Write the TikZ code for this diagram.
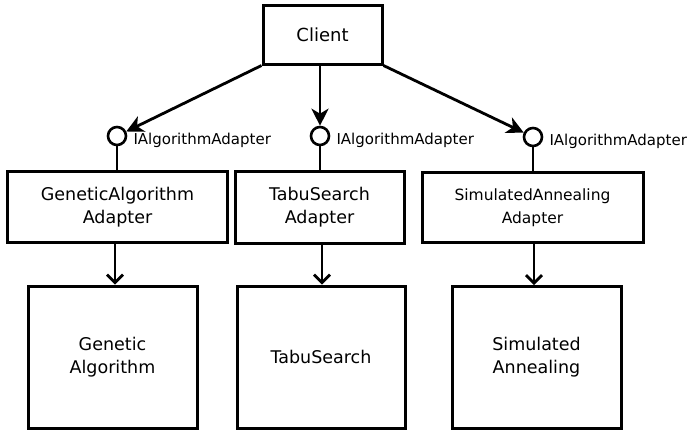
\documentclass[tikz,border=0pt]{standalone}
\usepackage{fontspec}
\setmainfont{DejaVu Sans}
\usetikzlibrary{arrows.meta}
\tikzset{
  box/.style={draw, line width=3pt, inner sep=0pt, align=center, fill=white},
  lolly/.style={draw, circle, line width=2.6pt, minimum size=18pt, inner sep=0pt},
  iface/.style={anchor=base west, inner sep=0pt, font=\fontsize{15pt}{17pt}\selectfont},
  uses/.style={line width=2.8pt, -{Stealth[length=17pt, width=17pt, inset=5pt]}},
  delegates/.style={line width=2.8pt, -{Straight Barb[length=8pt, width=16pt, line width=2.8pt]}},
  stem/.style={line width=2.6pt}
}
\begin{document}
\begin{tikzpicture}[x=1pt, y=-1pt, font=\fontsize{17.5pt}{23pt}\selectfont]
\useasboundingbox (0,0) rectangle (688,432);

% client
\node[box, minimum width=119pt, minimum height=59pt, font=\fontsize{18pt}{23pt}\selectfont] (client) at (322.5,34.5) {Client};

% adapters
\node[box, minimum width=220pt, minimum height=71pt] (ad1) at (117.5,207) {GeneticAlgorithm\\Adapter};
\node[box, minimum width=169pt, minimum height=72pt] (ad2) at (319.5,207) {TabuSearch\\Adapter};
\node[box, minimum width=221pt, minimum height=70pt, font=\fontsize{15.5pt}{23pt}\selectfont] (ad3) at (532.5,207.5) {SimulatedAnnealing\\Adapter};

% provided interfaces
\node[lolly] (i1) at (117,136) {};
\node[lolly] (i2) at (320,136) {};
\node[lolly] (i3) at (533,137) {};
\node[iface] (l1) at ([xshift=6pt, yshift=-8pt]i1.east) {IAlgorithmAdapter};
\node[iface] (l2) at ([xshift=6pt, yshift=-8pt]i2.east) {IAlgorithmAdapter};
\node[iface] (l3) at ([xshift=6pt, yshift=-8pt]i3.east) {IAlgorithmAdapter};
\draw[stem] (i1.south) -- (i1.south |- ad1.north);
\draw[stem] (i2.south) -- (i2.south |- ad2.north);
\draw[stem] (i3.south) -- (i3.south |- ad3.north);

% algorithms
\node[box, minimum width=169pt, minimum height=142pt] (alg1) at (112.5,357) {Genetic\\Algorithm};
\node[box, minimum width=168pt, minimum height=142pt] (alg2) at (321,357) {TabuSearch};
\node[box, minimum width=169pt, minimum height=142pt] (alg3) at (536.5,357.5) {Simulated\\Annealing};

% client uses the adapters
\draw[uses] (client.south west) -- (i1);
\draw[uses] (client.south -| i2) -- (i2.north);
\draw[uses] (client.south east) -- (i3);

% adapters delegate to the algorithms
\coordinate (d1) at (115,0);
\coordinate (d2) at (322,0);
\coordinate (d3) at (534,0);
\draw[delegates] (d1 |- ad1.south) -- (d1 |- alg1.north);
\draw[delegates] (d2 |- ad2.south) -- (d2 |- alg2.north);
\draw[delegates] (d3 |- ad3.south) -- (d3 |- alg3.north);
\end{tikzpicture}
\end{document}
